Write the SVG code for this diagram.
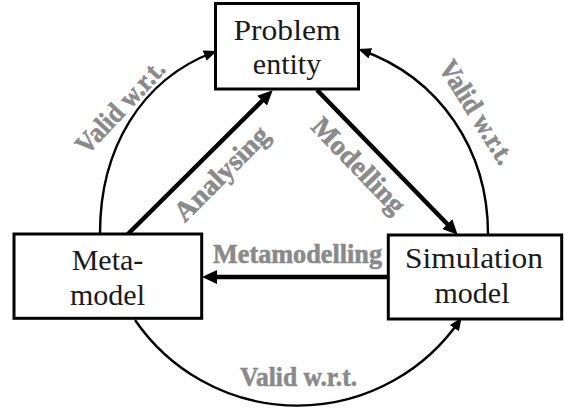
<svg xmlns="http://www.w3.org/2000/svg" width="565" height="412" viewBox="0 0 565 412">
<style>
.box{fill:#fff;stroke:#000;stroke-width:3}
.nt{font-family:"Liberation Serif","Times New Roman",serif;font-size:30px;fill:#1a1a1a;text-anchor:middle}
.lb{font-family:"Liberation Serif","Times New Roman",serif;font-size:28px;font-weight:bold;fill:#8a8a8a;stroke:#8a8a8a;stroke-width:0.6;text-anchor:middle}
.thick{fill:none;stroke:#000;stroke-width:4.5}
.thin{fill:none;stroke:#000;stroke-width:2.4}
</style>
<defs>
<marker id="hb" markerUnits="userSpaceOnUse" markerWidth="20" markerHeight="20" refX="6" refY="7" orient="auto">
<path d="M0,0 L15,7 L0,14 z" fill="#000"/>
</marker>
<marker id="hs" markerUnits="userSpaceOnUse" markerWidth="20" markerHeight="20" refX="10" refY="5.5" orient="auto">
<path d="M0,0 L13,5.5 L0,11 z" fill="#000"/>
</marker>
</defs>
<rect width="565" height="412" fill="#fff"/>
<g id="connectors">
<path class="thin" d="M100,233 C100,150 140,80 214,52" marker-end="url(#hs)"/>
<path class="thin" d="M488,234 C488,150 440,78 361,50" marker-end="url(#hs)"/>
<path class="thin" d="M135,320 A197,197 0 0 0 460,320" marker-end="url(#hs)"/>
<path class="thick" d="M128,234 L266.3,96.6" marker-end="url(#hb)"/>
<path class="thick" d="M317,90 L451.4,228.3" marker-end="url(#hb)"/>
<path class="thick" d="M388,277 L211,277" marker-end="url(#hb)"/>
</g>
<g id="problem">
<rect class="box" x="215.5" y="3.5" width="143" height="85.5"/>
<text class="nt" x="287" y="40" textLength="107" lengthAdjust="spacingAndGlyphs">Problem</text>
<text class="nt" x="287" y="74">entity</text>
</g>
<g id="metamodel">
<rect class="box" x="14" y="234" width="187.7" height="84.3"/>
<text class="nt" x="107.5" y="270">Meta-</text>
<text class="nt" x="107.5" y="305">model</text>
</g>
<g id="simulation">
<rect class="box" x="388.3" y="235" width="173.4" height="84"/>
<text class="nt" x="474" y="268" textLength="138" lengthAdjust="spacingAndGlyphs">Simulation</text>
<text class="nt" x="472" y="303">model</text>
</g>
<g id="labels">
<text class="lb" x="297.5" y="263" textLength="169" lengthAdjust="spacingAndGlyphs">Metamodelling</text>
<text class="lb" x="298.5" y="386" textLength="117" lengthAdjust="spacingAndGlyphs">Valid w.r.t.</text>
<text class="lb" transform="translate(127,113) rotate(-47)" textLength="117" lengthAdjust="spacingAndGlyphs">Valid w.r.t.</text>
<text class="lb" transform="translate(469,117) rotate(58)" textLength="117" lengthAdjust="spacingAndGlyphs">Valid w.r.t.</text>
<text class="lb" transform="translate(228,180) rotate(-45)" textLength="122" lengthAdjust="spacingAndGlyphs">Analysing</text>
<text class="lb" transform="translate(352,172) rotate(46)" textLength="122" lengthAdjust="spacingAndGlyphs">Modelling</text>
</g>
</svg>
